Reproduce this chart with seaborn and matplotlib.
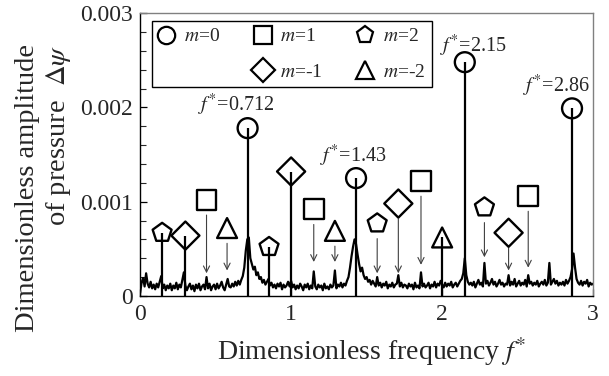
import numpy as np
import pandas as pd
import matplotlib
matplotlib.use("Agg")
import matplotlib.pyplot as plt
from matplotlib.lines import Line2D
import seaborn as sns

# pressure spectrum, one value every 0.01 of f*, in units of 1e-5
freq_step = 0.01
spectrum_1e5 = [
    3, 14, 19, 10, 24, 13, 9, 15, 8, 12,
    7, 13, 9, 15, 21, 8, 12, 6, 11, 8,
    13, 6, 11, 8, 14, 7, 12, 9, 17, 25,
    11, 6, 10, 13, 7, 11, 5, 12, 8, 13,
    6, 10, 12, 7, 20, 8, 13, 6, 10, 12,
    7, 13, 8, 11, 15, 9, 6, 12, 18, 10,
    9, 13, 10, 15, 11, 16, 12, 17, 21, 30,
    48, 60, 62, 40, 34, 28, 31, 22, 25, 18,
    20, 14, 17, 12, 15, 18, 11, 14, 9, 12,
    8, 13, 10, 14, 7, 12, 9, 11, 15, 10,
    16, 9, 12, 7, 11, 8, 13, 10, 6, 12,
    9, 13, 7, 11, 8, 26, 10, 7, 12, 9,
    11, 6, 13, 8, 10, 7, 12, 9, 11, 27,
    8, 12, 10, 14, 9, 13, 11, 16, 20, 30,
    42, 52, 60, 55, 44, 34, 26, 30, 22, 18,
    20, 15, 17, 12, 16, 13, 10, 20, 11, 14,
    9, 13, 11, 15, 8, 12, 10, 14, 9, 12,
    13, 22, 10, 14, 9, 12, 11, 8, 13, 10,
    12, 7, 14, 9, 11, 8, 25, 10, 13, 9,
    11, 14, 8, 12, 10, 15, 9, 13, 11, 16,
    12, 9, 14, 10, 13, 11, 15, 9, 12, 14,
    10, 13, 16, 18, 24, 40, 22, 15, 12, 14,
    11, 15, 9, 13, 17, 12, 14, 10, 35, 13,
    16, 11, 14, 18, 12, 15, 10, 13, 17, 12,
    14, 10, 13, 12, 22, 11, 15, 12, 18, 10,
    13, 16, 11, 14, 12, 17, 10, 22, 13, 15,
    11, 14, 12, 16, 10, 13, 15, 12, 17, 11,
    14, 35, 12, 15, 18, 13, 16, 11, 14, 12,
    15, 11, 17, 13, 16, 20, 28, 45, 30, 18,
    14, 12, 16, 11, 15, 13, 17, 10, 14, 12,
    13,
]

# marked components
mark_freq = [0.712, 1.43, 2.15, 2.86,
             0.146, 0.854, 1.57, 2.28,
             0.30, 1.00, 1.71, 2.44,
             0.44, 1.15, 1.86, 2.57,
             0.576, 1.29, 2.00]
mark_amp = [0.00178, 0.00125, 0.00248, 0.00199,
            0.00067, 0.00052, 0.00077, 0.00094,
            0.00064, 0.00132, 0.00098, 0.00067,
            0.00102, 0.00092, 0.00122, 0.00106,
            0.00072, 0.00069, 0.00062]
mark_mode = ["m=0"] * 4 + ["m=2"] * 4 + ["m=-1"] * 4 + ["m=1"] * 4 + ["m=-2"] * 3
mark_kind = (["stem"] * 4 + ["stem", "stem", "arrow", "arrow"]
             + ["stem", "stem", "arrow", "arrow"] + ["arrow"] * 4
             + ["arrow", "arrow", "stem"])
# where the arrow heads end
arrow_tip = [None, None, None, None,
             None, None, 0.00024, 0.00041,
             None, None, 0.00024, 0.00027,
             0.00024, 0.00036, 0.00033, 0.00030,
             0.00027, 0.00036, None]
peak_text = ["0.712", "1.43", "2.15", "2.86"]

marker_map = {"m=0": "o", "m=1": "s", "m=2": "p", "m=-1": "D", "m=-2": "^"}

spec = pd.DataFrame({"f": np.round(np.arange(len(spectrum_1e5)) * freq_step, 2),
                     "amp": np.array(spectrum_1e5) * 1e-5})
marks = pd.DataFrame({"f": mark_freq, "amp": mark_amp, "mode": mark_mode,
                      "kind": mark_kind, "tip": arrow_tip})

sns.set_style("ticks")
plt.rcParams["font.family"] = ["Liberation Serif", "DejaVu Serif"]
plt.rcParams["mathtext.fontset"] = "stix"

fig = plt.figure(figsize=(6.09, 3.76), dpi=100)
ax = fig.add_axes([0.23, 0.213, 0.744, 0.752])

sns.lineplot(data=spec, x="f", y="amp", color="black", lw=1.6, ax=ax)

stems = marks[marks["kind"] == "stem"]
ax.vlines(stems["f"], 0, stems["amp"], color="black", lw=1.6)

for _, r in marks[marks["kind"] == "arrow"].iterrows():
    ax.annotate("", xy=(r["f"], r["tip"]), xytext=(r["f"], r["amp"]),
                arrowprops=dict(arrowstyle="->", color="0.25", lw=0.8,
                                shrinkA=11, shrinkB=0, mutation_scale=11))

sns.scatterplot(data=marks, x="f", y="amp", style="mode", markers=marker_map,
                s=205, facecolors="none", edgecolor="black", linewidth=1.7,
                legend=False, ax=ax, zorder=5)

# f* labels over the m=0 peaks
label_offset = [(-8, 17), (-2, 16), (6, 12), (-11, 16)]
circles = marks[marks["mode"] == "m=0"].reset_index(drop=True)
for i, r in circles.iterrows():
    ax.annotate(f"$f^{{*}}$={peak_text[i]}", (r["f"], r["amp"]),
                xytext=label_offset[i], textcoords="offset points",
                ha="center", va="center", fontsize=14.5)

ax.set_xlim(0, 3)
ax.set_ylim(0, 0.003)
ax.set_xticks([0, 1, 2, 3])
ax.set_xticklabels(["0", "1", "2", "3"])
ax.set_yticks([0, 0.001, 0.002, 0.003])
ax.set_yticklabels(["0", "0.001", "0.002", "0.003"])
ax.set_yticks(np.arange(0, 0.0031, 0.0002), minor=True)
ax.tick_params(axis="both", which="major", direction="in", labelsize=17,
               length=5, width=0.9, color="black")
ax.tick_params(axis="x", pad=6)
ax.tick_params(axis="y", which="minor", direction="in", length=4, width=0.8)
ax.tick_params(axis="y", pad=5)
for side in ["left", "bottom"]:
    ax.spines[side].set_color("black")
    ax.spines[side].set_linewidth(1.0)
for side in ["top", "right"]:
    ax.spines[side].set_color("0.5")
    ax.spines[side].set_linewidth(1.0)

ax.set_ylabel("")
ax.set_xlabel("")
fig.text(0.611, 0.064, "Dimensionless frequency $f^{*}$", ha="center", va="center",
         fontsize=20)
fig.text(0.072, 0.5, "Dimensionless amplitude\nof pressure  $\\mathit{\\Delta\\psi}$",
         rotation=90, ha="center", va="center", multialignment="right",
         fontsize=20.5, linespacing=1.2)

# legend, 3 columns with an empty slot under m=0
def handle(mode):
    return Line2D([], [], ls="none", marker=marker_map[mode], ms=12.5,
                  mfc="none", mec="black", mew=1.6)

blank = Line2D([], [], ls="none")
handles = [handle("m=0"), blank, handle("m=1"), handle("m=-1"), handle("m=2"), handle("m=-2")]
labels = ["$m$=0", "", "$m$=1", "$m$=-1", "$m$=2", "$m$=-2"]
leg = ax.legend(handles, labels, ncol=3, loc="upper left", bbox_to_anchor=(0.026, 0.972),
                borderaxespad=0, fontsize=14, frameon=True, fancybox=False,
                edgecolor="black", framealpha=1, handlelength=0.8,
                handletextpad=0.5, columnspacing=1.8, labelspacing=0.9, borderpad=0.35)
leg.get_frame().set_linewidth(1.0)

plt.savefig("out.png", dpi=100)
